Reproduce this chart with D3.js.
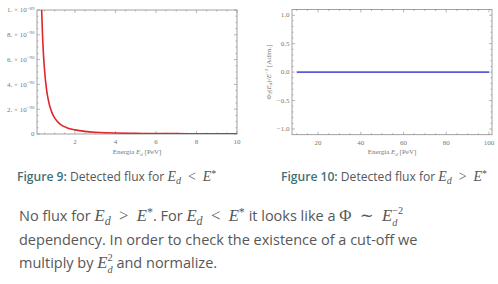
<!DOCTYPE html>
<html><head><meta charset="utf-8">
<script src="https://cdn.jsdelivr.net/npm/d3@7"></script>
<style>
body{margin:0;background:#fff;}
svg{display:block;}
</style></head>
<body>
<svg id="c" width="498" height="284"></svg>
<script>
// ---- data ----
const leftEnergy = [0.36,0.4,0.45,0.5,0.6,0.7,0.8,0.9,1.0,1.2,1.4,1.6,1.8,2.0,2.5,3.0,3.5,4.0,5.0,6.0,7.0,8.0,9.0,10.0];
const leftFlux = [10.0,8.1,6.4,5.2,3.6,2.65,2.03,1.6,1.3,0.9,0.66,0.51,0.4,0.33,0.21,0.145,0.106,0.081,0.052,0.036,0.027,0.02,0.016,0.013]; // x 1e-90
const leftXTicks = [2,4,6,8,10];
const leftYTicks = [0,2,4,6,8,10]; // x 1e-90
const leftYTickLabels = ["0","2. × 10","4. × 10","6. × 10","8. × 10","1. × 10"];
const leftYTickExp = ["","−90","−90","−90","−90","−89"];
const rightEnergy = [10,20,30,40,50,60,70,80,90,100];
const rightFlux = [0,0,0,0,0,0,0,0,0,0];
const rightXTicks = [20,40,60,80,100];
const rightYTicks = [-1.0,-0.5,0.0,0.5,1.0];

const svg = d3.select("#c");
const axisCol = "#8a8a8a", labCol = "#777777", tickFont = "'Liberation Serif','DejaVu Serif',serif";
const NB = "\u00a0";

function frame(g, x, y, xTicks, xMinor, yTicks, yMinor, fmtY, expY){
  const [x0,x1] = x.range(), [y0,y1] = y.range();
  g.append("rect").attr("x",x0).attr("y",y1).attr("width",x1-x0).attr("height",y0-y1)
    .attr("fill","none").attr("stroke",axisCol).attr("stroke-width",0.8);
  const t = g.append("g").attr("stroke",axisCol).attr("stroke-width",0.6);
  xMinor.forEach(v=>{const p=x(v); t.append("line").attr("x1",p).attr("x2",p).attr("y1",y0).attr("y2",y0-1.5);
    t.append("line").attr("x1",p).attr("x2",p).attr("y1",y1).attr("y2",y1+1.5);});
  xTicks.forEach(v=>{const p=x(v); t.append("line").attr("x1",p).attr("x2",p).attr("y1",y0).attr("y2",y0-3);
    t.append("line").attr("x1",p).attr("x2",p).attr("y1",y1).attr("y2",y1+3);});
  yMinor.forEach(v=>{const p=y(v); t.append("line").attr("y1",p).attr("y2",p).attr("x1",x0).attr("x2",x0+1.5);
    t.append("line").attr("y1",p).attr("y2",p).attr("x1",x1).attr("x2",x1-1.5);});
  yTicks.forEach(v=>{const p=y(v); t.append("line").attr("y1",p).attr("y2",p).attr("x1",x0).attr("x2",x0+3);
    t.append("line").attr("y1",p).attr("y2",p).attr("x1",x1).attr("x2",x1-3);});
  xTicks.forEach(v=>{g.append("text").attr("x",x(v)).attr("y",y0+10).attr("text-anchor","middle")
    .attr("font-family",tickFont).attr("font-size",7).attr("fill",labCol).text(v);});
  yTicks.forEach((v,i)=>{
    const tx = g.append("text").attr("x",x0-2.5).attr("y",y(v)+2.3).attr("text-anchor","end")
      .attr("font-family",tickFont).attr("font-size",7).attr("fill",labCol);
    tx.append("tspan").text(fmtY(v,i));
    if(expY && expY[i]) tx.append("tspan").attr("dy",-2.8).attr("font-size",5).text(expY[i]);
  });
}

// ---- left chart ----
const gl = svg.append("g");
const xl = d3.scaleLinear().domain([0.13,10]).range([37,237]);
const yl = d3.scaleLinear().domain([0,10]).range([134,10]);
frame(gl, xl, yl, leftXTicks, d3.range(0.5,10,0.5).filter(v=>v%2!==0), leftYTicks, d3.range(0.5,10,0.5).filter(v=>v%2!==0),
  (v,i)=>leftYTickLabels[i], leftYTickExp);
svg.append("clipPath").attr("id","clipL").append("rect").attr("x",37).attr("y",10).attr("width",200).attr("height",124);
gl.append("path").datum(leftEnergy.map((e,i)=>[e,leftFlux[i]]))
  .attr("clip-path","url(#clipL)")
  .attr("d",d3.line().x(d=>xl(d[0])).y(d=>yl(d[1])).curve(d3.curveMonotoneX))
  .attr("fill","none").attr("stroke","#e0262b").attr("stroke-width",1.6);
function axisLabel(g, cx){
  const a = g.append("text").attr("x",cx).attr("y",154).attr("text-anchor","middle")
    .attr("font-family",tickFont).attr("font-size",7).attr("fill",labCol);
  a.append("tspan").text("Energia ");
  a.append("tspan").attr("font-style","italic").text("E");
  a.append("tspan").attr("font-style","italic").attr("font-size",5).attr("dy",1.5).text("d");
  a.append("tspan").attr("dy",-1.5).text(" [PeV]");
}
axisLabel(gl, 137);

// ---- right chart ----
const gr = svg.append("g");
const xr = d3.scaleLinear().domain([7.8,101.4]).range([292,492]);
const yr = d3.scaleLinear().domain([-1.1,1.1]).range([134.7,9.5]);
frame(gr, xr, yr, rightXTicks, d3.range(10,101,5).filter(v=>v%20!==0), rightYTicks, d3.range(-1.0,1.01,0.1).map(v=>+v.toFixed(1)).filter(v=>Math.abs(v*2-Math.round(v*2))>1e-6),
  v=>v.toFixed(1).replace("-","−"), null);
gr.append("path").datum(rightEnergy.map((e,i)=>[e,rightFlux[i]]))
  .attr("d",d3.line().x(d=>xr(d[0])).y(d=>yr(d[1])))
  .attr("fill","none").attr("stroke","#5a5ad6").attr("stroke-width",1.6);
axisLabel(gr, 392);
const ylab = gr.append("text").attr("transform","translate(271,72) rotate(-90)").attr("text-anchor","middle")
  .attr("font-family",tickFont).attr("font-size",7).attr("fill",labCol);
ylab.append("tspan").text("Φ");
ylab.append("tspan").attr("font-size",5).attr("dy",1.4).text("2");
ylab.append("tspan").attr("dy",-1.4).text("(");
ylab.append("tspan").attr("font-style","italic").text("E");
ylab.append("tspan").attr("font-style","italic").attr("font-size",5).attr("dy",1.4).text("d");
ylab.append("tspan").attr("dy",-1.4).text(")/");
ylab.append("tspan").attr("font-style","italic").text("E");
ylab.append("tspan").attr("font-size",5).attr("dy",-2.8).text("−2");
ylab.append("tspan").attr("dy",2.8).text(" [Adim.]");

// ---- rich text helper ----
const sans = "'Open Sans','Noto Sans','Liberation Sans',sans-serif";
const serif = "'Liberation Serif','DejaVu Serif',serif";
const REL = "\u00a0\u2005";
const MS = 1.15; // math size factor
function rich(x, y, segs, size, color){
  let cx = x;
  segs.forEach(s=>{
    if(s.stack){
      let w=0;
      s.stack.forEach(p=>{
        const t = svg.append("text").attr("x",cx).attr("y",y+p.dy*size).attr("font-size",size*0.62*MS)
          .attr("font-family",serif).attr("font-style",p.i?"italic":"normal").attr("fill",color).text(p.t);
        w = Math.max(w, t.node().getComputedTextLength());
      });
      cx += w;
      return;
    }
    const sz = (s.s ? size*s.s : size) * (s.f==="m"?MS:1);
    const t = svg.append("text").attr("x",cx).attr("y",y+(s.dy||0)*size).attr("font-size",sz)
      .attr("font-family",s.f==="m"?serif:sans).attr("font-style",s.i?"italic":"normal")
      .attr("font-weight",s.b?600:"normal").attr("fill",s.c||color)
      .text(s.t.replace(/ /g,NB));
    cx += t.node().getComputedTextLength();
  });
  return cx;
}
const gray = "#575757", teal = "#3f7275";
function Ed(){return [{t:"E",f:"m",i:true},{t:"d",f:"m",i:true,s:0.72,dy:0.25}];}
function Estar(){return [{t:"E",f:"m",i:true},{t:"*",f:"m",s:0.72,dy:-0.35}];}
function rel(op){return {t:REL+op+REL,f:"m"};}

// captions
rich(17, 181, [{t:"Figure 9:",c:teal,b:true},{t:" Detected flux for "},...Ed(),rel("<"),...Estar()], 12.1, gray);
rich(281, 181, [{t:"Figure 10:",c:teal,b:true},{t:" Detected flux for "},...Ed(),rel(">"),...Estar()], 12.1, gray);

// paragraph
const ps = 14.5;
rich(19, 221, [{t:"No flux for "},...Ed(),rel(">"),...Estar(),{t:". For "},...Ed(),rel("<"),...Estar(),{t:" it looks like a "},{t:"Φ"+REL+"∼"+REL,f:"m"},{t:"E",f:"m",i:true},{stack:[{t:"d",i:true,dy:0.36},{t:"−2",dy:-0.5}]}], ps, gray);
rich(19, 244.5, [{t:"dependency. In order to check the existence of a cut-off we"}], ps, gray);
rich(19, 268, [{t:"multiply by "},{t:"E",f:"m",i:true},{stack:[{t:"d",i:true,dy:0.36},{t:"2",dy:-0.5}]},{t:" and normalize."}], ps, gray);
</script>
</body></html>
